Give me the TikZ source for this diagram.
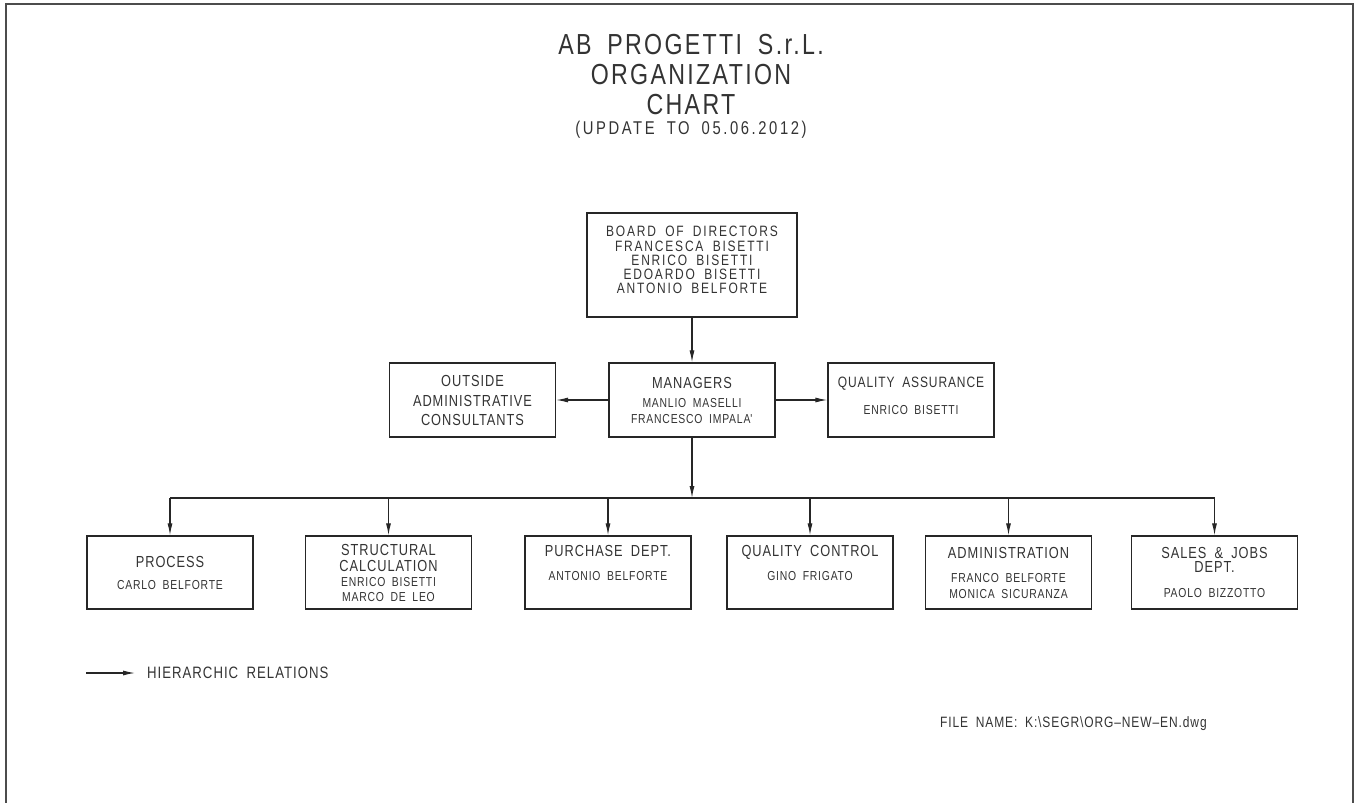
\documentclass[tikz,border=0pt]{standalone}
\usepackage{fontspec}
\setmainfont[FakeStretch=0.8,LetterSpace=6,WordSpace=1.8]{Liberation Sans}
\usetikzlibrary{arrows.meta}
\newcommand\headfont{\fontsize{16}{15}\selectfont}
\newcommand\namefont{\fontsize{13}{15}\selectfont}
\newcommand\boardfont{\fontsize{15}{14.15}\selectfont\addfontfeatures{LetterSpace=12}}
\begin{document}
\begin{tikzpicture}[x=1pt, y=-1pt,
    >={Latex[length=12pt,width=5pt]},
    box/.style={draw=black!85, line width=1.3pt, text=black!80, align=center,
      minimum width=166pt, minimum height=73pt, inner sep=0pt, font=\headfont},
    line/.style={draw=black!85, line width=1.1pt},
    caption/.style={text=black!80, inner sep=0pt}]
    \useasboundingbox (0,0) rectangle (1361,803);
    % sheet frame
    \draw[black!70, line width=2.5pt] (6,803) -- (6,4) -- (1353,4) -- (1353,803);
    % heading
    \node[caption, align=center, font=\fontsize{29}{30}\selectfont\addfontfeatures{LetterSpace=8}] (title) at (691,75) {AB PROGETTI S.r.L.\\ORGANIZATION\\CHART};
    \node[caption, font=\fontsize{18.5}{20}\selectfont\addfontfeatures{LetterSpace=14}] (update) at (691,130) {(UPDATE TO 05.06.2012)};
    % top of the chart
    \node[box, minimum width=210pt, minimum height=104pt, font=\boardfont, text depth=10pt] (board) at (692,265) {BOARD OF DIRECTORS\\FRANCESCA BISETTI\\ENRICO BISETTI\\EDOARDO BISETTI\\ANTONIO BELFORTE};
    \node[box, minimum height=74pt] (managers) at (692,400) {MANAGERS\\[4pt]\namefont MANLIO MASELLI\\[1pt]\namefont FRANCESCO IMPALA\textquotesingle};
    \node[box, minimum height=74pt] (outside) at (472.5,400) {OUTSIDE\\[5pt]ADMINISTRATIVE\\[4pt]CONSULTANTS};
    \node[box, minimum height=74pt, text depth=9pt] (quality) at (911,400) {\fontsize{15}{15}\selectfont QUALITY ASSURANCE\\[12pt]\namefont ENRICO BISETTI};
    % departments
    \node[box] (process) at (170,572.5) {PROCESS\\[7pt]\namefont CARLO BELFORTE};
    \node[box] (structural) at (388.5,572.5) {STRUCTURAL\\[1pt]CALCULATION\\\namefont ENRICO BISETTI\\\namefont MARCO DE LEO};
    \node[box, text depth=19pt] (purchase) at (608,572.5) {PURCHASE DEPT.\\[9pt]\namefont ANTONIO BELFORTE};
    \node[box, text depth=19pt] (control) at (810,572.5) {QUALITY CONTROL\\[9pt]\namefont GINO FRIGATO};
    \node[box] (admin) at (1008.5,572.5) {ADMINISTRATION\\[9pt]\namefont FRANCO BELFORTE\\[1pt]\namefont MONICA SICURANZA};
    \node[box] (sales) at (1214.5,572.5) {SALES \& JOBS\\[-1pt]DEPT.\\[10pt]\namefont PAOLO BIZZOTTO};
    \coordinate (bus) at (692,498);
    \draw[line, ->] (board) -- (managers);
    \draw[line, ->] (managers) -- (outside);
    \draw[line, ->] (managers) -- (quality);
    \draw[line, ->] (managers) -- (bus);
    \draw[line] (process.north |- bus) -- (sales.north |- bus);
    \draw[line, ->] (process.north |- bus) -- (process);
    \draw[line, ->] (structural.north |- bus) -- (structural);
    \draw[line, ->] (purchase.north |- bus) -- (purchase);
    \draw[line, ->] (control.north |- bus) -- (control);
    \draw[line, ->] (admin.north |- bus) -- (admin);
    \draw[line, ->] (sales.north |- bus) -- (sales);
    % legend and file name
    \coordinate (legtail) at (86,673);
    \node[caption, anchor=west, font=\fontsize{16.5}{16}\selectfont] (legend) at (147,673) {HIERARCHIC RELATIONS};
    \draw[line, ->, shorten >=12pt] (legtail) -- (legend.west);
    \node[caption, anchor=west, font=\fontsize{15}{15}\selectfont] (filename) at (940,724) {FILE NAME: K:\textbackslash SEGR\textbackslash ORG--NEW--EN.dwg};
\end{tikzpicture}
\end{document}
